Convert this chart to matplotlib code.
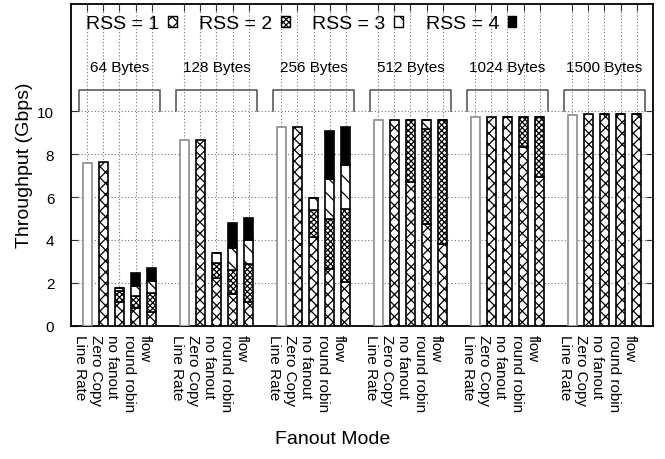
import numpy as np
import matplotlib.pyplot as plt
from matplotlib.patches import Patch

plt.rcParams['font.family'] = ['Liberation Sans', 'DejaVu Sans']
plt.rcParams['hatch.linewidth'] = 0.9

packet_sizes = ['64 Bytes', '128 Bytes', '256 Bytes', '512 Bytes', '1024 Bytes', '1500 Bytes']
modes = ['Line Rate', 'Zero Copy', 'no fanout', 'round robin', 'flow']
rss_labels = ['RSS = 1', 'RSS = 2', 'RSS = 3', 'RSS = 4']

line_rate = [7.60, 8.68, 9.27, 9.58, 9.74, 9.83]
zero_copy = [7.63, 8.68, 9.27, 9.58, 9.74, 9.88]

# throughput per RSS queue (Gbps), one row per packet size
no_fanout = [
    [1.09, 0.51, 0.15, 0.00],
    [2.23, 0.69, 0.46, 0.00],
    [4.14, 1.27, 0.56, 0.00],
    [6.72, 2.86, 0.00, 0.00],
    [9.74, 0.00, 0.00, 0.00],
    [9.88, 0.00, 0.00, 0.00],
]
round_robin = [
    [0.81, 0.59, 0.46, 0.62],
    [1.46, 1.16, 0.99, 1.18],
    [2.64, 2.32, 1.88, 2.22],
    [4.73, 4.45, 0.40, 0.00],
    [8.34, 1.40, 0.00, 0.00],
    [9.88, 0.00, 0.00, 0.00],
]
flow = [
    [0.62, 0.90, 0.56, 0.60],
    [1.12, 1.78, 1.10, 1.01],
    [2.02, 3.41, 2.06, 1.78],
    [3.80, 5.78, 0.00, 0.00],
    [6.94, 2.80, 0.00, 0.00],
    [9.88, 0.00, 0.00, 0.00],
]

rss_hatch = ['xxx', 'xxxxxx', '\\\\', None]
rss_face = ['white', 'white', 'white', 'black']

fig = plt.figure(figsize=(6.65, 4.6), dpi=100)
ax = fig.add_axes([71 / 665, 1 - 326.7 / 460, 582 / 665, 321.7 / 460])

slot = len(modes) + 1
x0 = np.arange(len(packet_sizes)) * slot
width = 0.55

ax.bar(x0, line_rate, width, color='white', edgecolor='0.55', lw=1.2, zorder=3)
ax.bar(x0 + 1, zero_copy, width, color='white', edgecolor='black',
       hatch=rss_hatch[0], lw=1.2, zorder=3)

for j, series in enumerate([no_fanout, round_robin, flow]):
    data = np.array(series)
    bottom = np.zeros(len(packet_sizes))
    for k in range(len(rss_labels)):
        ax.bar(x0 + 2 + j, data[:, k], width, bottom=bottom, color=rss_face[k],
               edgecolor='black', hatch=rss_hatch[k], lw=1.2, zorder=3)
        bottom += data[:, k]

# brackets and labels over each packet size group
for x, name in zip(x0, packet_sizes):
    ax.plot([x - 0.5, x - 0.5, x + 4.5, x + 4.5], [10, 11, 11, 10],
            color='0.3', lw=1.1, zorder=2)
    ax.text(x + 2, 12.05, name, ha='center', va='center', fontsize=11)

xticks = (x0[:, None] + np.arange(len(modes))).ravel()
ax.set_xticks(xticks)
ax.set_xticklabels(modes * len(packet_sizes), rotation=270, ha='right',
                   va='top', fontsize=11)
ax.set_yticks(np.arange(0, 11, 2))
ax.tick_params(axis='y', labelsize=11, pad=12)
ax.tick_params(direction='in', top=True, right=True, length=5, color='0.2')
ax.tick_params(axis='x', pad=6)
ax.set_xlim(-1, 35)
ax.set_ylim(0, 15)

ax.grid(True, linestyle=(0, (1, 2)), color='0.45', lw=0.8)
ax.set_axisbelow(True)
for s in ax.spines.values():
    s.set_linewidth(1.3)

handles = [Patch(facecolor=rss_face[k], edgecolor='black', hatch=rss_hatch[k], lw=1.0)
           for k in range(len(rss_labels))]
ax.legend(handles, rss_labels, ncol=4, loc='upper left', bbox_to_anchor=(-0.004, 1.02),
          markerfirst=False, frameon=False, fontsize=14, handlelength=0.45,
          handleheight=0.5, handletextpad=0.45, columnspacing=1.15)

fig.text(25 / 665, 1 - 165 / 460, 'Throughput (Gbps)', rotation=90,
         ha='center', va='center', fontsize=14)
fig.text(333 / 665, 1 - 440 / 460, 'Fanout Mode', ha='center', va='center', fontsize=14)

fig.savefig('out.png', dpi=100)
